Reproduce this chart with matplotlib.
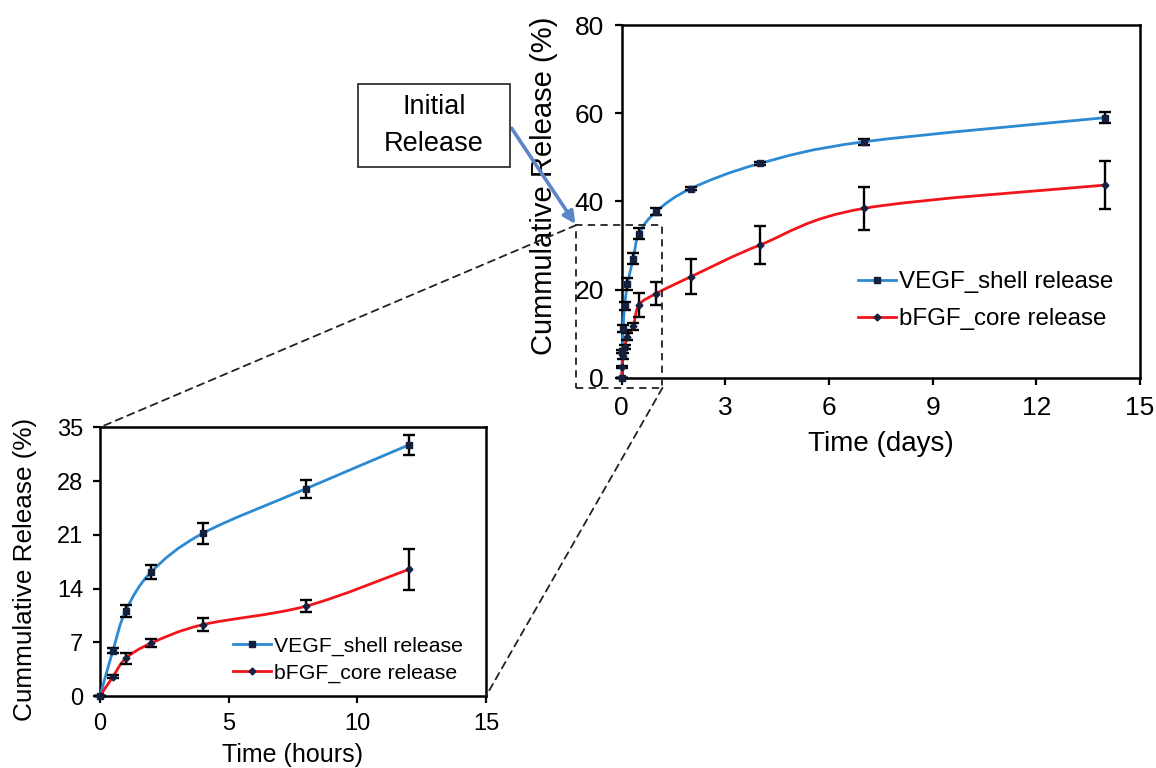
import numpy as np
import matplotlib
matplotlib.use("Agg")
import matplotlib.pyplot as plt
from matplotlib.path import Path
from matplotlib.patches import PathPatch, Rectangle, ConnectionPatch
from matplotlib.lines import Line2D

plt.rcParams['font.family'] = ['Liberation Sans', 'DejaVu Sans']

# ---- data ----
hours = [0, 0.5, 1, 2, 4, 8, 12]
vegf_hours = [0, 5.9, 11.1, 16.2, 21.2, 27.0, 32.7]
vegf_hours_err = [0, 0.3, 0.8, 0.9, 1.4, 1.2, 1.3]
bfgf_hours = [0, 2.5, 4.9, 6.9, 9.3, 11.7, 16.5]
bfgf_hours_err = [0, 0.2, 0.7, 0.5, 0.8, 0.8, 2.7]

days_extra = [1, 2, 4, 7, 14]
vegf_days_extra = [37.7, 42.9, 48.6, 53.5, 59.0]
vegf_days_extra_err = [0.7, 0.4, 0.3, 0.6, 1.2]
bfgf_days_extra = [19.1, 22.9, 30.1, 38.4, 43.7]
bfgf_days_extra_err = [2.7, 4.0, 4.2, 4.9, 5.4]

days = [h / 24 for h in hours] + days_extra
vegf_days = vegf_hours + vegf_days_extra
vegf_days_err = vegf_hours_err + vegf_days_extra_err
bfgf_days = bfgf_hours + bfgf_days_extra
bfgf_days_err = bfgf_hours_err + bfgf_days_extra_err

labels = ['VEGF_shell release', 'bFGF_core release']

# zoom window drawn on the main chart (days, %)
zoom_box = (-1.32, -2.3, 2.5, 36.9)

BLUE = '#2C8AD3'
RED = '#F2151B'
MARK = '#15203F'


def smooth_path(x, y, t=1.0 / 6):
    # Excel-style smoothed line: cubic bezier through the points
    p = np.column_stack([x, y]).astype(float)
    n = len(p)
    verts = [p[0]]
    codes = [Path.MOVETO]
    for i in range(n - 1):
        p0 = p[i - 1] if i > 0 else p[i]
        p3 = p[i + 2] if i + 2 < n else p[i + 1]
        c1 = p[i] + (p[i + 1] - p0) * t
        c2 = p[i + 1] - (p3 - p[i]) * t
        verts += [c1, c2, p[i + 1]]
        codes += [Path.CURVE4] * 3
    return Path(verts, codes)


def draw_series(ax, x, y, err, color, marker, ms):
    ax.add_patch(PathPatch(smooth_path(x, y), fill=False, edgecolor=color,
                           lw=2.0, zorder=3, clip_on=False))
    ax.errorbar(x, y, yerr=err, fmt='none', ecolor='black', elinewidth=1.7,
                capsize=4.5, capthick=1.7, zorder=4, clip_on=False)
    ax.plot(x, y, linestyle='none', marker=marker, ms=ms, color=MARK,
            zorder=5, clip_on=False)


def style_axes(ax, tick_size, pad):
    for s in ax.spines.values():
        s.set_linewidth(1.8)
    ax.tick_params(direction='out', length=5, width=1.6, labelsize=tick_size, pad=pad)


fig = plt.figure(figsize=(11.56, 7.68), dpi=100)

# ---- main chart (days) ----
ax = fig.add_axes([0.5378, 0.5082, 0.4484, 0.4592])
draw_series(ax, days, vegf_days, vegf_days_err, BLUE, 's', 4.5)
draw_series(ax, days, bfgf_days, bfgf_days_err, RED, 'D', 3.5)
ax.set_xlim(0, 15)
ax.set_ylim(0, 80)
ax.set_xticks(range(0, 16, 3))
ax.set_yticks(range(0, 81, 20))
style_axes(ax, 19, 8)
ax.set_xlabel('Time (days)', fontsize=20, labelpad=8)
ax.set_ylabel('Cummulative Release (%)', fontsize=21)
ax.yaxis.set_label_coords(-0.122, 0.545)

handles = [Line2D([], [], color=BLUE, lw=2.0, marker='s', ms=4.5, mfc=MARK, mec=MARK),
           Line2D([], [], color=RED, lw=2.0, marker='D', ms=3.5, mfc=MARK, mec=MARK)]
ax.legend(handles, labels, loc='upper left', bbox_to_anchor=(0.455, 0.302),
          frameon=False, fontsize=17.4, handlelength=1.6, handletextpad=0.1,
          labelspacing=0.62, borderpad=0, borderaxespad=0)

# dashed zoom window
ax.add_patch(Rectangle((zoom_box[0], zoom_box[1]), zoom_box[2], zoom_box[3],
                       fill=False, ls=(0, (4, 3)), lw=1.3, ec='#222222',
                       clip_on=False, zorder=6))

# ---- inset chart (hours) ----
ax2 = fig.add_axes([0.0865, 0.0937, 0.3339, 0.3499])
draw_series(ax2, hours, vegf_hours, vegf_hours_err, BLUE, 's', 4.5)
draw_series(ax2, hours, bfgf_hours, bfgf_hours_err, RED, 'D', 3.5)
ax2.set_xlim(0, 15)
ax2.set_ylim(0, 35)
ax2.set_xticks(range(0, 16, 5))
ax2.set_yticks(range(0, 36, 7))
style_axes(ax2, 17, 7)
ax2.set_xlabel('Time (hours)', fontsize=18, labelpad=6)
ax2.set_ylabel('Cummulative Release (%)', fontsize=18.8)
ax2.yaxis.set_label_coords(-0.163, 0.47)
ax2.legend(handles, labels, loc='upper left', bbox_to_anchor=(0.345, 0.22),
           frameon=False, fontsize=15.3, handlelength=1.8, handletextpad=0.1,
           labelspacing=0.35, borderpad=0, borderaxespad=0)

# connector lines from zoom window to inset
for xy_main, xy_inset in [((zoom_box[0], zoom_box[1] + zoom_box[3]), (0, 1)),
                          ((zoom_box[0] + zoom_box[2], zoom_box[1]), (1, 0))]:
    con = ConnectionPatch(xyA=xy_main, coordsA=ax.transData,
                          xyB=xy_inset, coordsB=ax2.transAxes,
                          ls=(0, (4, 3)), lw=1.3, color='#222222')
    fig.add_artist(con)

# "Initial Release" callout
fig.add_artist(Rectangle((0.3097, 0.7826), 0.1315, 0.108, transform=fig.transFigure,
                         fill=False, ec='#333333', lw=1.3))
fig.text(0.3754, 0.8365, 'Initial\nRelease', ha='center', va='center',
         fontsize=19.5, linespacing=1.55)
ax.annotate('', xy=(zoom_box[0], zoom_box[1] + zoom_box[3]), xycoords='data',
            xytext=(0.4426, 0.833), textcoords='figure fraction',
            arrowprops=dict(arrowstyle='-|>', color='#5B87C9', lw=2.6,
                            mutation_scale=18, shrinkA=0, shrinkB=1),
            annotation_clip=False)

fig.savefig('out.png', dpi=100)
